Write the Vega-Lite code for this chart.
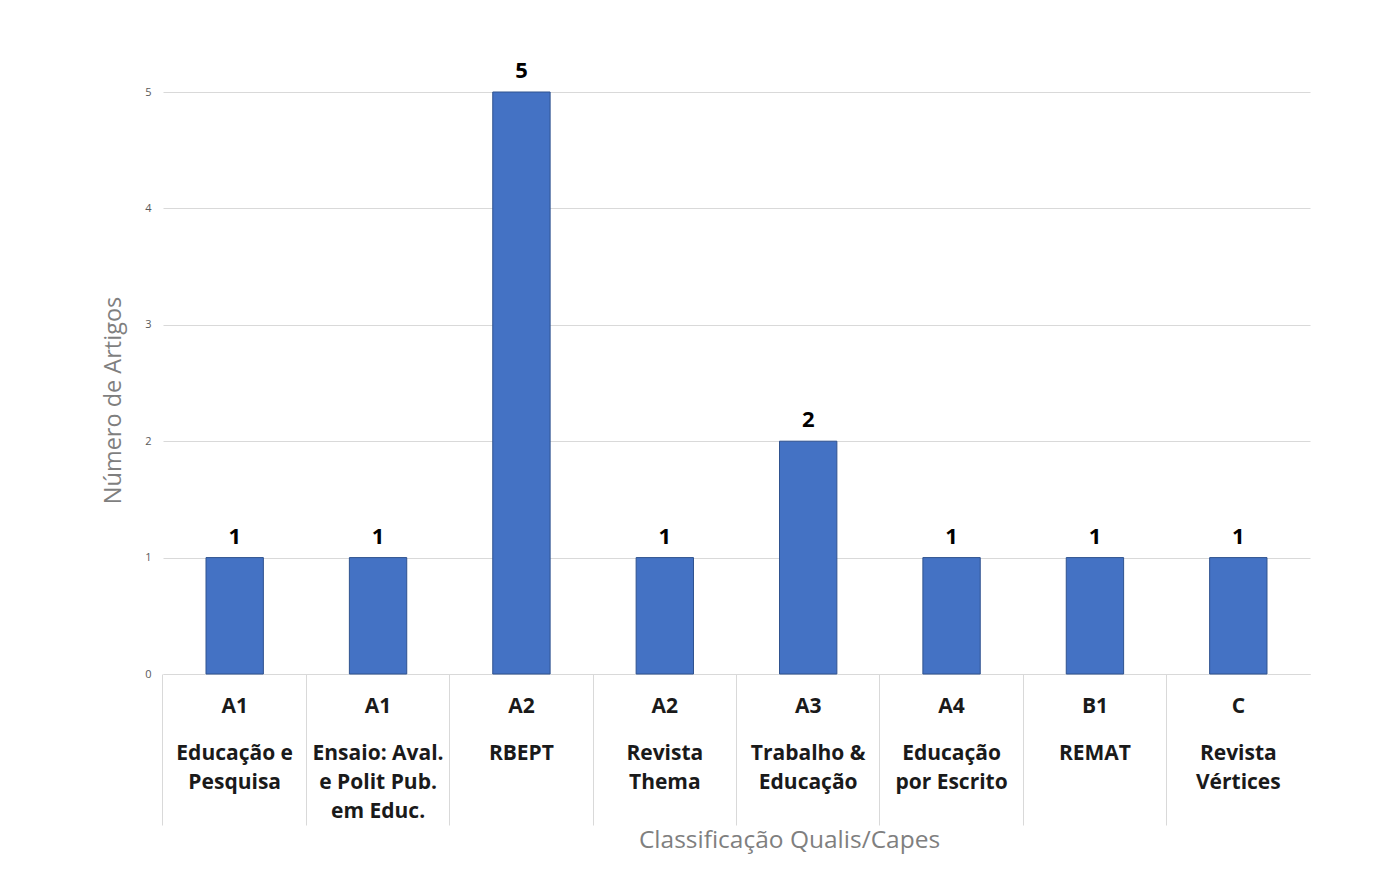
{
  "$schema": "https://vega.github.io/schema/vega-lite/v6.json",
  "width": 1147,
  "height": 582,
  "autosize": {"type": "none"},
  "padding": {"left": 163, "top": 92, "right": 78, "bottom": 206},
  "background": "#FFFFFF",
  "data": {
    "values": [
      {"rotulo": "A1|Educação e|Pesquisa", "qualis": "A1", "artigos": 1},
      {"rotulo": "A1|Ensaio: Aval.|e Polit Pub.|em Educ.", "qualis": "A1", "artigos": 1},
      {"rotulo": "A2|RBEPT", "qualis": "A2", "artigos": 5},
      {"rotulo": "A2|Revista|Thema", "qualis": "A2", "artigos": 1},
      {"rotulo": "A3|Trabalho &|Educação", "qualis": "A3", "artigos": 2},
      {"rotulo": "A4|Educação|por Escrito", "qualis": "A4", "artigos": 1},
      {"rotulo": "B1|REMAT", "qualis": "B1", "artigos": 1},
      {"rotulo": "C|Revista|Vértices", "qualis": "C", "artigos": 1}
    ]
  },
  "resolve": {"scale": {"x": "independent"}},
  "layer": [
    {
      "mark": {"type": "bar", "color": "#4472C4", "stroke": "#2F528F", "strokeWidth": 1},
      "encoding": {
        "x": {
          "field": "rotulo",
          "type": "nominal",
          "sort": null,
          "scale": {"paddingInner": 0.6, "paddingOuter": 0.3},
          "axis": {
            "orient": "bottom",
            "labelExpr": "split(datum.value, '|')[0]",
            "labelAngle": 0,
            "labelFont": "Open Sans",
            "labelFontWeight": "bold",
            "labelFontSize": 21,
            "labelColor": "#1A1A1A",
            "labelBaseline": "top",
            "labelPadding": -130,
            "bandPosition": -0.75,
            "ticks": true,
            "tickSize": 151,
            "tickColor": "#D9D9D9",
            "tickWidth": 1,
            "domainColor": "#D9D9D9",
            "title": null
          }
        },
        "y": {
          "field": "artigos",
          "type": "quantitative",
          "scale": {"domain": [0, 5]},
          "axis": {
            "values": [0, 1, 2, 3, 4, 5],
            "format": "d",
            "labelFont": "Open Sans",
            "labelFontSize": 11,
            "labelColor": "#595959",
            "labelPadding": 12,
            "ticks": false,
            "domain": false,
            "grid": true,
            "gridColor": "#D9D9D9",
            "title": "Número de Artigos",
            "titleFont": "Open Sans",
            "titleFontSize": 23.5,
            "titleFontWeight": "normal",
            "titleColor": "#7F7F7F",
            "titlePadding": 19,
            "titleY": 308
          }
        }
      }
    },
    {
      "mark": {"type": "text", "font": "Open Sans", "fontWeight": "bold", "fontSize": 22, "color": "#000000", "baseline": "bottom", "dy": -9},
      "encoding": {
        "x": {
          "field": "rotulo",
          "type": "nominal",
          "sort": null,
          "scale": {"paddingInner": 0.6, "paddingOuter": 0.3},
          "axis": null
        },
        "y": {"field": "artigos", "type": "quantitative"},
        "text": {"field": "artigos", "type": "quantitative"}
      }
    },
    {
      "mark": {"type": "bar", "opacity": 0},
      "encoding": {
        "x": {
          "field": "rotulo",
          "type": "nominal",
          "sort": null,
          "scale": {"paddingInner": 0.6, "paddingOuter": 0.3},
          "axis": {
            "orient": "bottom",
            "labelExpr": "slice(split(datum.value, '|'), 1)",
            "labelAngle": 0,
            "labelFont": "Open Sans",
            "labelFontWeight": "bold",
            "labelFontSize": 21,
            "labelColor": "#1A1A1A",
            "labelBaseline": "top",
            "labelLineHeight": 29,
            "labelPadding": 68,
            "ticks": false,
            "domain": false,
            "title": "Classificação Qualis/Capes",
            "titleFont": "Open Sans",
            "titleFontSize": 24.5,
            "titleFontWeight": "normal",
            "titleColor": "#7F7F7F",
            "titleX": 626,
            "titleY": 154
          }
        },
        "y": {"field": "artigos", "type": "quantitative"}
      }
    }
  ],
  "config": {
    "view": {"stroke": null},
    "font": "Open Sans"
  }
}
